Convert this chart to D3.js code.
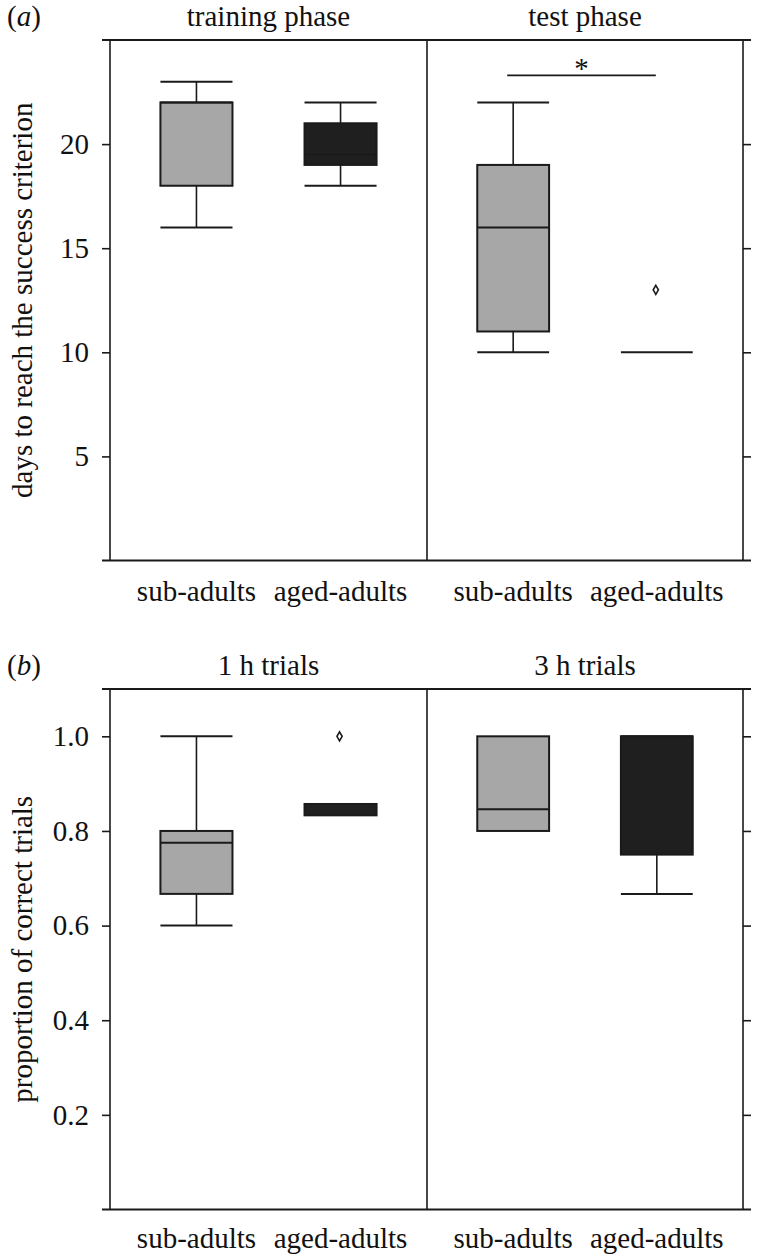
<!DOCTYPE html>
<html>
<head>
<meta charset="utf-8">
<script src="https://cdn.jsdelivr.net/npm/d3@7"></script>
<style>
  html, body { margin: 0; padding: 0; background: #fff; }
  svg { display: block; }
  svg text { font-family: "Liberation Serif", "Tinos", "DejaVu Serif", "Noto Serif", serif !important; fill: #111; }
</style>
</head>
<body>
<svg id="chart" width="758" height="1256"></svg>
<script>
// ---------------- data ----------------
const categories = ["sub-adults", "aged-adults"];
const phaseLabels = ["training phase", "test phase"];
const trialLabels = ["1 h trials", "3 h trials"];
const daysTicks = [5, 10, 15, 20];
const propTicks = [0.2, 0.4, 0.6, 0.8, 1.0];
// [lower whisker, q1, median, q3, upper whisker]
const trainingBoxes = [[16, 18, 22, 22, 23], [18, 19, 19.5, 21, 22]];
const trainingOutliers = [[], []];
const testBoxes = [[10, 11, 16, 19, 22], [10, 10, 10, 10, 10]];
const testOutliers = [[], [13]];
const hour1Boxes = [[0.6, 0.667, 0.775, 0.8, 1.0], [0.833, 0.833, 0.857, 0.857, 0.857]];
const hour1Outliers = [[], [1.0]];
const hour3Boxes = [[0.8, 0.8, 0.846, 1.0, 1.0], [0.667, 0.75, 1.0, 1.0, 1.0]];
const hour3Outliers = [[], []];
const testSignificance = { from: "sub-adults", to: "aged-adults", level: 23.3, label: "*" };
const fills = ["#a7a7a7", "#1f1f1f"];

// ---------------- layout ----------------
const svg = d3.select("#chart");
const X0 = 110, XM = 427, X1 = 743;
const ext = 8;
const stroke = "#1a1a1a";
const FONT = "'Liberation Serif', 'Tinos', 'DejaVu Serif', serif";

function drawPanel(cfg) {
  const g = svg.append("g").attr("font-family", FONT);
  const y = d3.scaleLinear().domain(cfg.domain).range([cfg.bottom, cfg.top]);
  const halves = [[X0, XM], [XM, X1]];

  // y axis left
  const axL = d3.axisLeft(y).tickValues(cfg.ticks).tickSize(ext).tickPadding(13)
    .tickFormat(cfg.fmt).tickSizeOuter(0);
  const gl = g.append("g").attr("transform", `translate(${X0},0)`).call(axL);
  gl.attr("font-family", FONT).attr("font-size", 29);
  gl.select(".domain").remove();
  gl.selectAll("line").attr("stroke", stroke).attr("stroke-width", 1.6);
  gl.selectAll("text").attr("fill", "#111");

  // right ticks
  const axR = d3.axisRight(y).tickValues(cfg.ticks).tickSize(ext).tickFormat("").tickSizeOuter(0);
  const gr = g.append("g").attr("transform", `translate(${X1},0)`).call(axR);
  gr.select(".domain").remove();
  gr.selectAll("line").attr("stroke", stroke).attr("stroke-width", 1.6);

  // frame lines
  [cfg.top, cfg.bottom].forEach(yy => {
    g.append("line").attr("x1", X0 - ext).attr("x2", X1 + ext).attr("y1", yy).attr("y2", yy)
      .attr("stroke", stroke).attr("stroke-width", 1.8);
  });
  [X0, XM, X1].forEach(xx => {
    g.append("line").attr("x1", xx).attr("x2", xx).attr("y1", cfg.top).attr("y2", cfg.bottom)
      .attr("stroke", stroke).attr("stroke-width", 1.6);
  });

  // panel tag
  const tag = g.append("text").attr("x", 7).attr("y", cfg.top - 14).attr("font-size", 29);
  tag.append("tspan").text("(");
  tag.append("tspan").attr("font-style", "italic").text(cfg.tag);
  tag.append("tspan").text(")");

  // y title
  g.append("text")
    .attr("transform", `translate(32,${(cfg.top + cfg.bottom) / 2}) rotate(-90)`)
    .attr("text-anchor", "middle").attr("font-size", 29).text(cfg.ytitle);

  cfg.groups.forEach((grp, gi) => {
    const [a, b] = halves[gi];
    const x = d3.scalePoint().domain(categories).range([a, b]).padding(0.6);
    const bw = x.step() * 0.5;

    g.append("text").attr("x", (a + b) / 2).attr("y", cfg.top - 14)
      .attr("text-anchor", "middle").attr("font-size", 29).text(grp.title);

    categories.forEach((c, ci) => {
      const s = grp.boxes[ci];
      const cx = x(c);
      const bg = g.append("g");
      if (s[0] < s[1]) {
        bg.append("line").attr("x1", cx).attr("x2", cx).attr("y1", y(s[0])).attr("y2", y(s[1]))
          .attr("stroke", stroke).attr("stroke-width", 1.6);
        bg.append("line").attr("x1", cx - bw / 2).attr("x2", cx + bw / 2).attr("y1", y(s[0])).attr("y2", y(s[0]))
          .attr("stroke", stroke).attr("stroke-width", 2);
      }
      if (s[4] > s[3]) {
        bg.append("line").attr("x1", cx).attr("x2", cx).attr("y1", y(s[4])).attr("y2", y(s[3]))
          .attr("stroke", stroke).attr("stroke-width", 1.6);
        bg.append("line").attr("x1", cx - bw / 2).attr("x2", cx + bw / 2).attr("y1", y(s[4])).attr("y2", y(s[4]))
          .attr("stroke", stroke).attr("stroke-width", 2);
      }
      bg.append("rect").attr("x", cx - bw / 2).attr("width", bw)
        .attr("y", y(s[3])).attr("height", Math.max(0, y(s[1]) - y(s[3])))
        .attr("fill", fills[ci]).attr("stroke", stroke).attr("stroke-width", 2);
      bg.append("line").attr("x1", cx - bw / 2).attr("x2", cx + bw / 2).attr("y1", y(s[2])).attr("y2", y(s[2]))
        .attr("stroke", stroke).attr("stroke-width", 2);
      (grp.outliers[ci] || []).forEach(v => {
        bg.append("path").attr("d", "M0,-4.5 L2.6,0 L0,4.5 L-2.6,0 Z")
          .attr("transform", `translate(${cx - 1},${y(v)})`)
          .attr("fill", "#fff").attr("stroke", stroke).attr("stroke-width", 1.6);
      });
      g.append("text").attr("x", cx).attr("y", cfg.labelY)
        .attr("text-anchor", "middle").attr("font-size", 29).text(c);
    });

    if (grp.sig) {
      const yy = y(grp.sig.level);
      const xa = x(grp.sig.from) - 6, xb = x(grp.sig.to) - 1;
      g.append("line").attr("x1", xa).attr("x2", xb).attr("y1", yy).attr("y2", yy)
        .attr("stroke", stroke).attr("stroke-width", 1.6);
      g.append("text").attr("x", (xa + xb) / 2).attr("y", yy + 3)
        .attr("text-anchor", "middle").attr("font-size", 29).text(grp.sig.label);
    }
  });
}

drawPanel({
  tag: "a", top: 40, bottom: 560.5, domain: [0, 25], ticks: daysTicks, fmt: d3.format("d"),
  ytitle: "days to reach the success criterion", labelY: 601,
  groups: [
    { title: phaseLabels[0], boxes: trainingBoxes, outliers: trainingOutliers },
    { title: phaseLabels[1], boxes: testBoxes, outliers: testOutliers, sig: testSignificance }
  ]
});

drawPanel({
  tag: "b", top: 689, bottom: 1209.5, domain: [0, 1.1], ticks: propTicks, fmt: d3.format(".1f"),
  ytitle: "proportion of correct trials", labelY: 1248,
  groups: [
    { title: trialLabels[0], boxes: hour1Boxes, outliers: hour1Outliers },
    { title: trialLabels[1], boxes: hour3Boxes, outliers: hour3Outliers }
  ]
});
</script>
</body>
</html>
